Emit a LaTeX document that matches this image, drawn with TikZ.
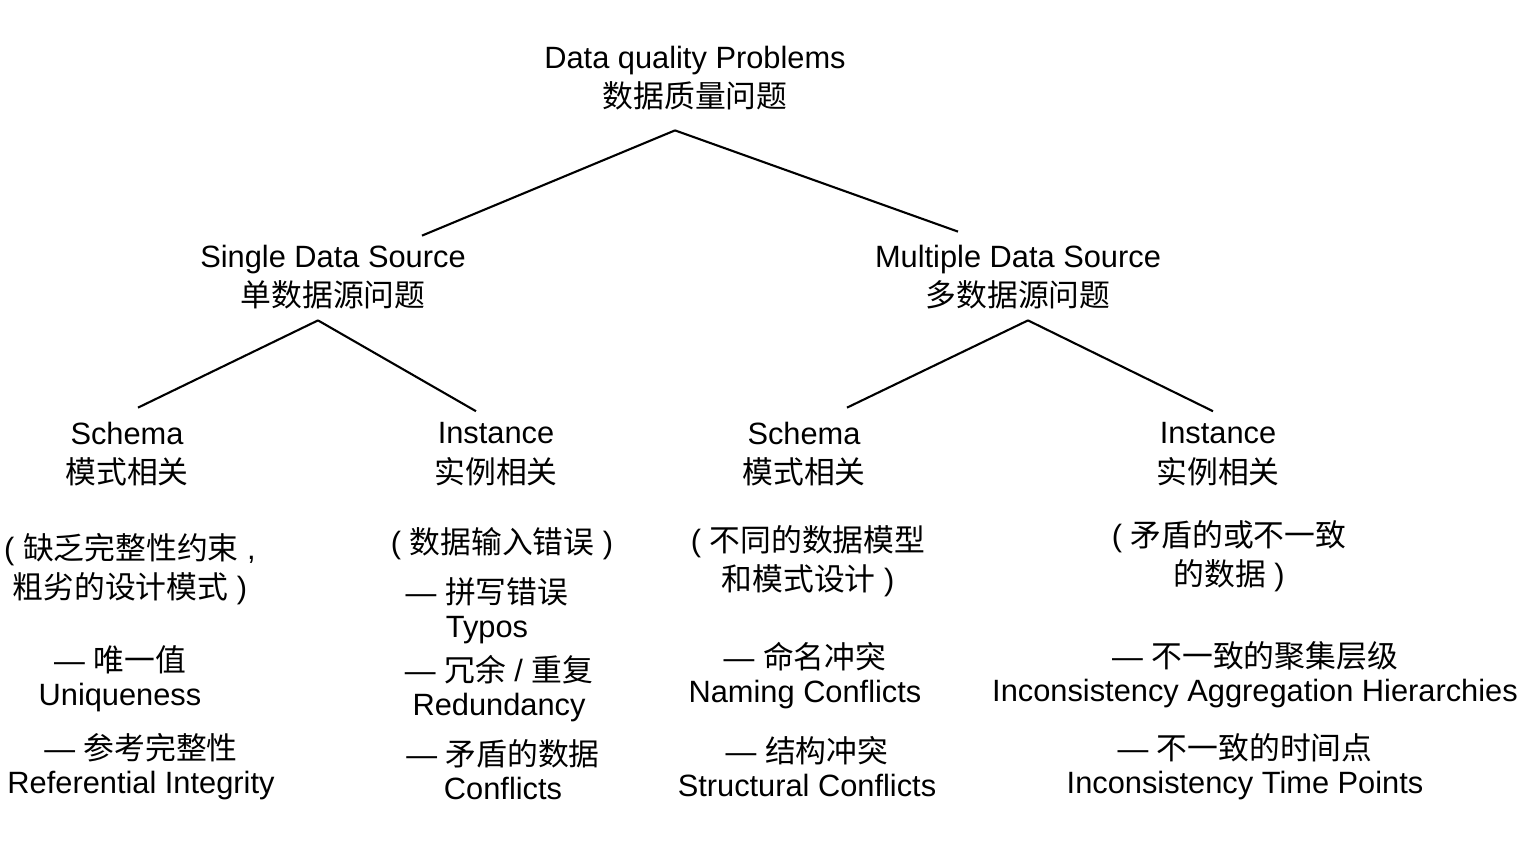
\documentclass[tikz,border=0pt]{standalone}
\usepackage{fontspec}
\setmainfont{Liberation Sans}
\newfontfamily\cjk{Noto Sans CJK SC}
\newcommand{\zh}[1]{{\cjk #1}}
\begin{document}
\begin{tikzpicture}[x=1pt,y=-1pt,
  lbl/.style={font=\fontsize{30.8}{39.5}\selectfont, align=center, inner sep=0pt, text=black},
  item/.style={font=\fontsize{30.8}{34}\selectfont, align=center, inner sep=0pt, text=black},
  conn/.style={line width=2.1pt, black}]
\fill[white] (0,0) rectangle (1522,849);
\useasboundingbox (0,0) rectangle (1522,849);

% level 0
\node[lbl] (root) at (695,78) {Data quality Problems\\\zh{数据质量问题}};
% level 1
\node[lbl] (single) at (333,277) {Single Data Source\\\zh{单数据源问题}};
\node[lbl] (multi) at (1018,277) {Multiple Data Source\\\zh{多数据源问题}};
% level 2
\node[lbl] (schemaA) at (127,454) {Schema\\\zh{模式相关}};
\node[lbl] (instA) at (496,454) {Instance\\\zh{实例相关}};
\node[lbl] (schemaB) at (804,454) {Schema\\\zh{模式相关}};
\node[lbl] (instB) at (1218,454) {Instance\\\zh{实例相关}};

% details: single / schema
\node[lbl] (schemaAd) at (130,569) {( \zh{缺乏完整性约束} ,\\\zh{粗劣的设计模式} )};
\node[item] (uniq) at (120,679) {— \zh{唯一值}\\Uniqueness};
\node[item] (refint) at (141,767) {— \zh{参考完整性}\\Referential Integrity};
% details: single / instance
\node[lbl] (instAd) at (502,544) {( \zh{数据输入错误} )};
\node[item] (typos) at (487,611) {— \zh{拼写错误}\\Typos};
\node[item] (redund) at (499,689) {— \zh{冗余} / \zh{重复}\\Redundancy};
\node[item] (confl) at (503,770) {— \zh{矛盾的数据}\\Conflicts};
% details: multiple / schema
\node[lbl] (schemaBd) at (808,561) {( \zh{不同的数据模型}\\\zh{和模式设计} )};
\node[item] (naming) at (805,676) {— \zh{命名冲突}\\Naming Conflicts};
\node[item] (struct) at (807,767) {— \zh{结构冲突}\\Structural Conflicts};
% details: multiple / instance
\node[lbl] (instBd) at (1229,556) {( \zh{矛盾的或不一致}\\\zh{的数据} )};
\node[item] (aggr) at (1255,675) {— \zh{不一致的聚集层级}\\Inconsistency Aggregation Hierarchies};
\node[item] (timep) at (1245,767) {— \zh{不一致的时间点}\\Inconsistency Time Points};

% connectors
\draw[conn] ([xshift=-20pt,yshift=-20pt]root.south) -- ([xshift=89pt,yshift=9pt]single.north);
\draw[conn] ([xshift=-20pt,yshift=-20pt]root.south) -- ([xshift=-60pt,yshift=13pt]multi.north);
\draw[conn] ([xshift=-15pt,yshift=-11pt]single.south) -- ([xshift=11pt,yshift=14pt]schemaA.north);
\draw[conn] ([xshift=-15pt,yshift=-11pt]single.south) -- ([xshift=-20pt,yshift=11pt]instA.north);
\draw[conn] ([xshift=10pt,yshift=-11pt]multi.south) -- ([xshift=43pt,yshift=14pt]schemaB.north);
\draw[conn] ([xshift=10pt,yshift=-11pt]multi.south) -- ([xshift=-5pt,yshift=11pt]instB.north);
\end{tikzpicture}
\end{document}
